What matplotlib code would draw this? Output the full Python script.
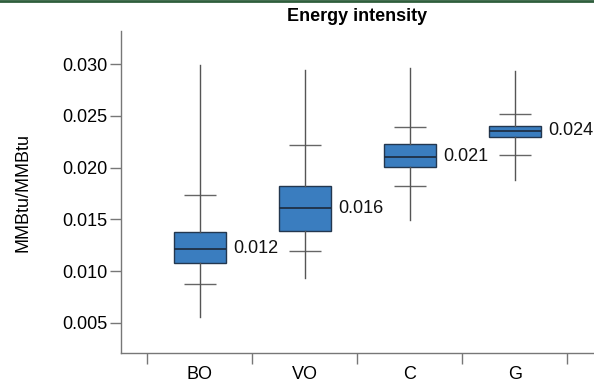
import matplotlib
matplotlib.use("Agg")
import matplotlib.pyplot as plt
from matplotlib.lines import Line2D

plt.rcParams['font.family'] = ['Liberation Sans', 'DejaVu Sans']

categories = ["BO", "VO", "C", "G"]
minimum = [0.00555, 0.00931, 0.01494, 0.0188]
low_cap = [0.00876, 0.01195, 0.01822, 0.02122]
q1 = [0.01082, 0.01388, 0.02003, 0.02298]
median = [0.01217, 0.01607, 0.02105, 0.02356]
q3 = [0.01375, 0.0182, 0.02225, 0.02402]
high_cap = [0.01736, 0.02221, 0.02392, 0.0252]
maximum = [0.0299, 0.02942, 0.0296, 0.02935]
labels = ["0.012", "0.016", "0.021", "0.024"]
yticks = [0.005, 0.010, 0.015, 0.020, 0.025, 0.030]

fig = plt.figure(figsize=(5.94, 3.83), dpi=100)
ax = fig.add_axes([121/594, 1-353/383, (593-121)/594, (353-31)/383])

pos = list(range(len(categories)))
stats = []
for i in pos:
    stats.append(dict(whislo=minimum[i], q1=q1[i], med=median[i], q3=q3[i],
                      whishi=maximum[i], fliers=[]))

ax.bxp(stats, positions=pos, widths=0.5, patch_artist=True, showcaps=False,
       showfliers=False,
       boxprops=dict(facecolor='#3a7dbf', edgecolor='#23374f', linewidth=1.0),
       medianprops=dict(color='#1c2a3c', linewidth=1.2),
       whiskerprops=dict(color='#555555', linewidth=1.0))

ax.hlines(low_cap, [p - 0.15 for p in pos], [p + 0.15 for p in pos], color='#666666', linewidth=1.0, zorder=1)
ax.hlines(high_cap, [p - 0.15 for p in pos], [p + 0.15 for p in pos], color='#666666', linewidth=1.0, zorder=1)

for i in pos:
    ax.annotate(labels[i], xy=(i + 0.25, median[i]), xytext=(5, 0), textcoords='offset points',
                ha='left', va='center', fontsize=13, color='#111111')

ax.set_xlim(-0.752, 3.743)
ax.set_ylim(0.0021, 0.0332)
ax.set_yticks(yticks)
ax.set_yticklabels([f"{v:.3f}" for v in yticks])
ax.set_xticks([-0.5, 0.5, 1.5, 2.5, 3.5])
ax.set_xticklabels([])
ax.set_xticks(pos, minor=True)
ax.set_xticklabels(categories, minor=True)
ax.tick_params(axis='x', which='minor', length=0, pad=9.5, labelsize=13)
ax.tick_params(axis='x', which='major', length=8, width=1, color='#777777', direction='out')
ax.tick_params(axis='y', length=8, width=1, color='#777777', direction='out', pad=2, labelsize=13)

for s in ['top', 'right']:
    ax.spines[s].set_visible(False)
for s in ['left', 'bottom']:
    ax.spines[s].set_color('#777777')
    ax.spines[s].set_linewidth(1.0)

ax.set_ylabel("MMBtu/MMBtu", fontsize=13)
ax.yaxis.set_label_coords(-0.19, 0.5)
ax.set_title("Energy intensity", fontsize=13, fontweight='bold', pad=7)

fig.add_artist(Line2D([0, 1], [1 - 1.3/383, 1 - 1.3/383], transform=fig.transFigure,
                      color='#2f5e3c', linewidth=2.0))

fig.savefig("out.png", dpi=100)
